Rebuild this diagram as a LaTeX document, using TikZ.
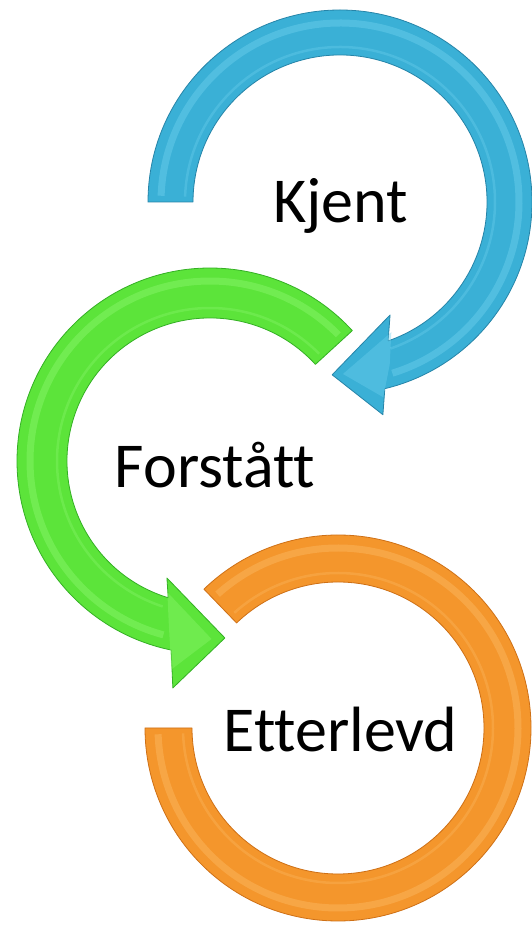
\documentclass[tikz,border=0pt]{standalone}
\usepackage{fontspec}
\setmainfont{Carlito}[Ligatures={NoCommon}]
\definecolor{bluemain}{RGB}{58,176,214}
\definecolor{bluedark}{RGB}{38,132,168}
\definecolor{bluelight}{RGB}{110,208,238}
\definecolor{greenmain}{RGB}{92,228,58}
\definecolor{greendark}{RGB}{52,176,36}
\definecolor{greenlight}{RGB}{140,246,110}
\definecolor{orangemain}{RGB}{244,150,44}
\definecolor{orangedark}{RGB}{206,112,22}
\definecolor{orangelight}{RGB}{252,186,100}
\tikzset{
  band/.style={line width=0.8pt, line join=round},
  hl/.style={line width=7pt, line cap=butt, opacity=0.45},
  hlthin/.style={line width=2.5pt, line cap=butt, opacity=0.35},
  label/.style={anchor=base, inner sep=0pt, font=\fontsize{64}{70}\selectfont, text=black}
}
\begin{document}
\begin{tikzpicture}[x=1pt,y=1pt]
\useasboundingbox (0,0) rectangle (532,926);
\fill[white] (0,0) rectangle (532,926);

% orange ring
\begin{scope}[shift={(338,198)}]
\path[band, fill=orangemain, draw=orangedark]
  (134:193) arc[start angle=134, end angle=-180, radius=193]
  -- (180:146) arc[start angle=-180, end angle=134, radius=146] -- cycle;
\draw[hl, orangelight] (132:180) arc[start angle=132, end angle=-178, radius=180];
\draw[hlthin, orangelight] (132:155) arc[start angle=132, end angle=-178, radius=155];
\end{scope}

% green arrow
\begin{scope}[shift={(210,465)}]
\path[band, fill=greenmain, draw=greendark]
  (42.5:193) arc[start angle=42.5, end angle=258.4, radius=193]
  -- (260.7:230) -- (274.8:177.6) -- (249.8:124.7) -- (253:143)
  arc[start angle=253, end angle=42.5, radius=143] -- cycle;
\draw[hl, greenlight] (44.5:180) arc[start angle=44.5, end angle=255, radius=180];
\draw[hlthin, greenlight] (44.5:153) arc[start angle=44.5, end angle=252, radius=153];
\path[fill=greenlight, opacity=0.4]
  (259.5:212) -- (270.5:178) -- (252:138) -- (256:170) -- cycle;
\end{scope}

% blue arrow
\begin{scope}[shift={(340,724)}]
\path[band, fill=bluemain, draw=bluedark]
  (180:192) arc[start angle=180, end angle=-76.5, radius=192]
  -- (-78.6:217) -- (-92.6:173) -- (-66.1:123.6) -- (-70.9:147)
  arc[start angle=-70.9, end angle=180, radius=147] -- cycle;
\draw[hl, bluelight] (178:179) arc[start angle=178, end angle=-73, radius=179];
\draw[hlthin, bluelight] (178:155) arc[start angle=178, end angle=-71, radius=155];
\path[fill=bluelight, opacity=0.4]
  (-77.5:200) -- (-89:172) -- (-68.5:140) -- (-73:170) -- cycle;
\end{scope}

\node[label] (kjent) at (340.5,703) {Kjent};
\node[label] (forstatt) at (215,438) {Forstått};
\node[label] (etterlevd) at (340.5,174) {Etterlevd};
\end{tikzpicture}
\end{document}
